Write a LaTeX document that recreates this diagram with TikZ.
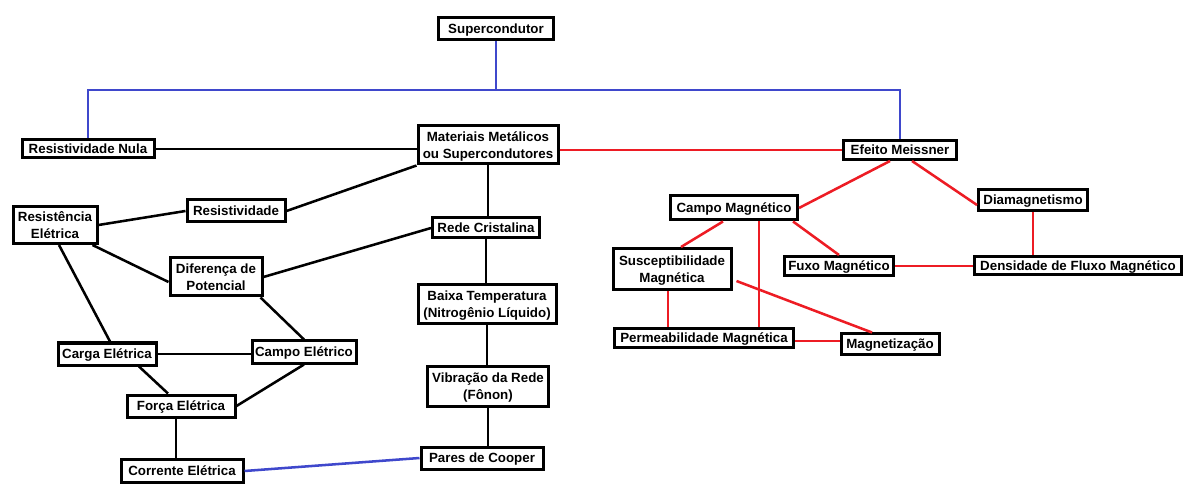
\documentclass[tikz,border=0pt]{standalone}
\usepackage{fontspec}
\setmainfont{Liberation Sans}
\usetikzlibrary{calc,positioning}
\definecolor{pred}{HTML}{ED1C24}
\definecolor{pblue}{HTML}{3F48CC}
\tikzset{cbase/.style={draw,line width=2.25pt,fill=white,rectangle,inner sep=1pt,text=black,text depth=0pt,
font=\bfseries\fontsize{10}{12.5}\selectfont},conc/.style={cbase},dup/.style={cbase,align=center},
wh/.style 2 args={minimum width=#1*0.75pt-2.25pt,minimum height=#2*0.75pt-2.25pt},
lig/.style={line width=1.9pt,black},ligaz/.style={line width=1.9pt,pblue},ligver/.style={line width=1.9pt,pred}}

\begin{document}
\begin{tikzpicture}[x=0.75pt,y=-0.75pt]
			\useasboundingbox (0,0) rectangle (1184,484);
			\node[conc,wh={118}{25}] (sup) at (496,29) {Supercondutor};
			\node[conc,wh={135}{21}] (resnula) at (88,149) {Resistividade Nula};
			\node[dup,wh={143}{41}] (mat) at (488,145) {Materiais Metálicos\\ou Supercondutores};
			\node[conc,wh={116}{22}] (meiss) at (900,150) {Efeito Meissner};
			\node[dup,wh={87}{40}] (resel) at (55,225) {Resistência\\Elétrica};
			\node[conc,wh={101}{25}] (resv) at (236,211) {Resistividade};
			\node[conc,wh={110}{23}] (rede) at (486,228) {Rede Cristalina};
			\node[conc,wh={130}{27}] (cmag) at (734,208) {Campo Magnético};
			\node[conc,wh={112}{24}] (diam) at (1033,200) {Diamagnetismo};
			\node[dup,wh={95}{41}] (difp) at (216,277) {Diferença de\\Potencial};
			\node[dup,wh={121}{44}] (susc) at (672,269) {Susceptibilidade\\Magnética};
			\node[conc,wh={112}{22}] (fuxo) at (839,266) {Fuxo Magnético};
			\node[conc,wh={210}{21}] (dens) at (1078,266) {Densidade de Fluxo Magnético};
			\node[dup,wh={141}{42}] (baixa) at (487,304) {Baixa Temperatura\\(Nitrogênio Líquido)};
			\node[conc,wh={101}{25}] (carga) at (107,354) {Carga Elétrica};
			\node[conc,wh={107}{25}] (cel) at (304,352) {Campo Elétrico};
			\node[conc,wh={182}{21}] (perm) at (704,338) {Permeabilidade Magnética};
			\node[conc,wh={101}{23}] (magz) at (890,344) {Magnetização};
			\node[dup,wh={124}{43}] (vib) at (488,386) {Vibração da Rede\\(Fônon)};
			\node[conc,wh={111}{25}] (forca) at (181,406) {Força Elétrica};
			\node[conc,wh={125}{25}] (pares) at (482,458) {Pares de Cooper};
			\node[conc,wh={125}{26}] (corr) at (182,471) {Corrente Elétrica};

			\coordinate (bus) at (497,90);
			\draw[ligaz] (sup.south) -- (sup.south |- bus);
			\draw[ligaz] (resnula.north) -- (resnula.north |- bus) -- (meiss.north |- bus) -- (meiss.north);
			\draw[ligaz] (corr.east) -- (pares.west);

			\draw[lig] (resnula.east) -- (resnula.east -| mat.west);
			\draw[lig] (mat.south west) -- (resv.east);
			\draw[lig] (mat.south) -- (mat.south |- rede.north);
			\draw[lig] (resv.west) -- (resel.east);
			\draw[lig] ($(resel.south east)+(-6,0)$) -- ($(difp.west)+(0,5)$);
			\draw[lig] ($(resel.south)+(4,0)$) -- ($(carga.north)+(3,0)$);
			\draw[lig] (rede.west) -- (difp.east);
			\draw[lig] (rede.south) -- (rede.south |- baixa.north);
			\draw[lig] (baixa.south) -- (baixa.south |- vib.north);
			\draw[lig] (vib.south) -- (vib.south |- pares.north);
			\draw[lig] ($(difp.south east)+(-3,0)$) -- (cel.north);
			\draw[lig] (carga.east) -- (carga.east -| cel.west);
			\draw[lig] ($(carga.south)+(32,0)$) -- ($(forca.north)+(-13,0)$);
			\draw[lig] (cel.south) -- (forca.east);
			\draw[lig] ($(forca.south)+(-5,0)$) -- ($(forca.south |- corr.north)+(-5,0)$);

			\draw[ligver] (meiss.west -| mat.east) -- (meiss.west);
			\draw[ligver] ($(meiss.south)+(-10,0)$) -- (cmag.east);
			\draw[ligver] ($(meiss.south)+(12,0)$) -- ($(diam.west)+(0,5)$);
			\draw[ligver] ($(cmag.south)+(-11,0)$) -- ($(susc.north)+(9,0)$);
			\draw[ligver] ($(cmag.south)+(25,0)$) -- ($(perm.north)+(55,0)$);
			\draw[ligver] ($(cmag.south east)+(-6,0)$) -- (fuxo.north);
			\draw[ligver] (fuxo.east) -- (fuxo.east -| dens.west);
			\draw[ligver] (diam.south) -- (diam.south |- dens.north);
			\draw[ligver] ($(susc.south)+(-4,0)$) -- ($(susc.south |- perm.north)+(-4,0)$);
			\draw[ligver] ($(susc.east)+(4,12)$) -- ($(magz.north)+(-18,0)$);
			\draw[ligver] ($(perm.east)+(0,3)$) -- ($(perm.east -| magz.west)+(0,3)$);
		\end{tikzpicture}
\end{document}
